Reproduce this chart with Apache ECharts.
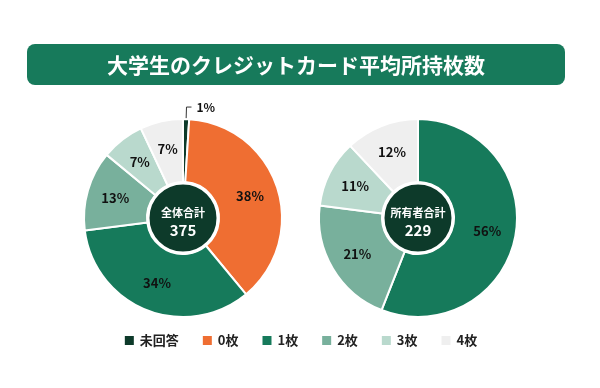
<!DOCTYPE html>
<html><head><meta charset="utf-8">
<script src="https://cdn.jsdelivr.net/npm/echarts@6/dist/echarts.min.js"></script>
<style>html,body{margin:0;padding:0;background:#fff}#c{width:600px;height:388px}</style>
</head><body><div id="c"></div>
<script>
const titleText = '大学生のクレジットカード平均所持枚数';
const categories = ['未回答', '0枚', '1枚', '2枚', '3枚', '4枚'];
const colors = ['#0d3a2a', '#ef6e32', '#167a5b', '#78b09c', '#b9d9cd', '#efefef'];
const allValues = [1, 38, 34, 13, 7, 7];
const ownerCategories = ['1枚', '2枚', '3枚', '4枚'];
const ownerValues = [56, 21, 11, 12];
const allLabel = ['全体合計', '375'];
const ownerLabel = ['所有者合計', '229'];

const font = '"Noto Sans CJK JP", "Noto Sans", sans-serif';
const colorOf = n => colors[categories.indexOf(n)];

function pieSeries(name, cats, vals, cx) {
  return {
    type: 'pie', name, center: [cx, 218], radius: [36, 99],
    startAngle: 90, clockwise: true, avoidLabelOverlap: false,
    itemStyle: { borderColor: '#fff', borderWidth: 2 },
    label: { position: 'inside', formatter: '{c}%', color: '#111', fontSize: 13, fontWeight: 'bold', fontFamily: font },
    emphasis: { disabled: true },
    data: cats.map((c, i) => {
      const d = { name: c, value: vals[i], itemStyle: { color: colorOf(c) } };
      if (c === '未回答') {
        d.label = { position: 'outside', color: '#111', fontSize: 12, distance: 2 };
        d.labelLine = { show: true, length: 12, length2: 5, lineStyle: { color: '#333', width: 1 } };
      }
      return d;
    })
  };
}
function centerSeries(lines, cx) {
  return {
    type: 'pie', name: 'center-' + cx, center: [cx, 218], radius: [0, 35], silent: true,
    itemStyle: { color: '#0d3a2a', borderColor: '#fff', borderWidth: 3 },
    label: { position: 'center', padding: [7, 0, 0, 0], formatter: '{a|' + lines[0] + '}\n{b|' + lines[1] + '}',
      rich: { a: { color: '#fff', fontSize: 11, fontWeight: 'bold', fontFamily: font, lineHeight: 17 },
              b: { color: '#fff', fontSize: 15, fontWeight: 'bold', fontFamily: font, lineHeight: 17 } } },
    labelLine: { show: false },
    data: [{ value: 1, name: 'c' }]
  };
}

const chart = echarts.init(document.getElementById('c'));
chart.setOption({
  backgroundColor: '#fff',
  animation: false,
  color: colors,
  graphic: [
    { type: 'rect', shape: { x: 27, y: 44, width: 538, height: 41, r: 8 }, style: { fill: '#177a5b' } },
    { type: 'text', x: 296, y: 65, style: { text: titleText, fill: '#fff', font: 'bold 21px ' + font, textAlign: 'center', textVerticalAlign: 'middle' } }
  ],
  legend: {
    data: categories, bottom: 36, left: 'center', itemWidth: 11, itemHeight: 11, itemGap: 22,
    icon: 'rect', textStyle: { color: '#222', fontSize: 13, fontWeight: 'bold', fontFamily: font }, selectedMode: false
  },
  series: [
    pieSeries('全体', categories, allValues, 183),
    pieSeries('所有者', ownerCategories, ownerValues, 418),
    centerSeries(allLabel, 183),
    centerSeries(ownerLabel, 418)
  ]
});
</script></body></html>
